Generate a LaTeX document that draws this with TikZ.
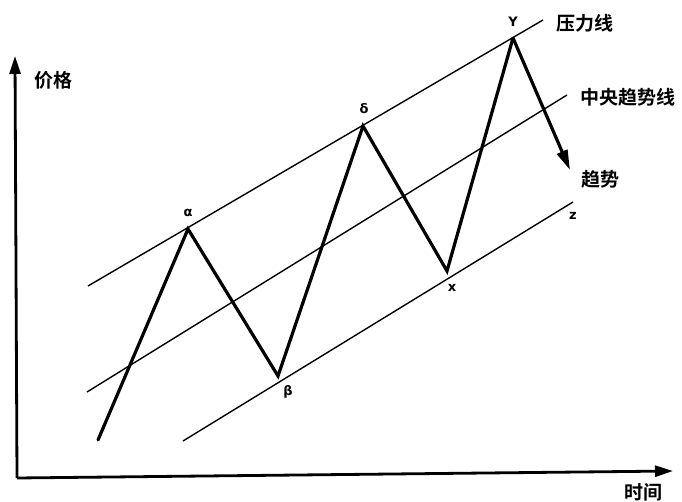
\documentclass[tikz,border=0pt]{standalone}
\usepackage{fontspec}
\newfontfamily\cjk{Noto Sans CJK SC Bold}
\newfontfamily\grk{DejaVu Sans Bold}
\usetikzlibrary{arrows.meta}
\tikzset{
  chan/.style={line width=1.4pt},
  zig/.style={line width=3.2pt, line join=miter, line cap=round},
  axis/.style={line width=2.8pt, -{Triangle[length=18pt,width=11pt]}},
  cjklab/.style={font=\cjk\fontsize{19}{19}\selectfont, inner sep=0pt},
  grklab/.style={font=\grk\fontsize{13}{13}\selectfont, inner sep=0pt},
}
\begin{document}
\begin{tikzpicture}[x=1pt,y=-1pt]
\useasboundingbox (0,0) rectangle (682,502);
% axes
\coordinate (O) at (17,478);
\coordinate (Ytop) at (15,56);
\coordinate (Xend) at (673,471);
\draw[axis] (O) -- (Ytop);
\draw[axis] (O) -- (Xend);
\node[cjklab] (lp) at (53,80) {价格};
\node[cjklab] (lt) at (643,492) {时间};
% channel lines
\coordinate (t1) at (88,286); \coordinate (t2) at (543,20);
\coordinate (m1) at (87,392); \coordinate (m2) at (567,95);
\coordinate (b1) at (183,441); \coordinate (b2) at (573,202);
\draw[chan] (t1) -- (t2);
\draw[chan] (m1) -- (m2);
\draw[chan] (b1) -- (b2);
% zigzag
\coordinate (s) at (98,440);
\coordinate (a) at (188,229);
\coordinate (b) at (278,376);
\coordinate (d) at (363,126);
\coordinate (x) at (447,271);
\coordinate (y) at (513,38);
\coordinate (e) at (570,170);
\draw[zig] (s) -- (a) -- (b) -- (d) -- (x) -- (y);
\draw[line width=3.2pt, -{Triangle[length=20pt,width=11pt]}] (y) -- (e);
% labels
\node[grklab] (la) at (188,213) {α};
\node[grklab] (lb) at (288,392) {β};
\node[grklab] (ld) at (364,109) {δ};
\node[grklab] (lx) at (452,288) {x};
\node[grklab] (ly) at (513,22) {Y};
\node[grklab] (lz) at (573,216) {z};
\node[cjklab] (n1) at (585,23) {压力线};
\node[cjklab] (n2) at (628,97) {中央趋势线};
\node[cjklab] (n3) at (600,179) {趋势};
\end{tikzpicture}
\end{document}
